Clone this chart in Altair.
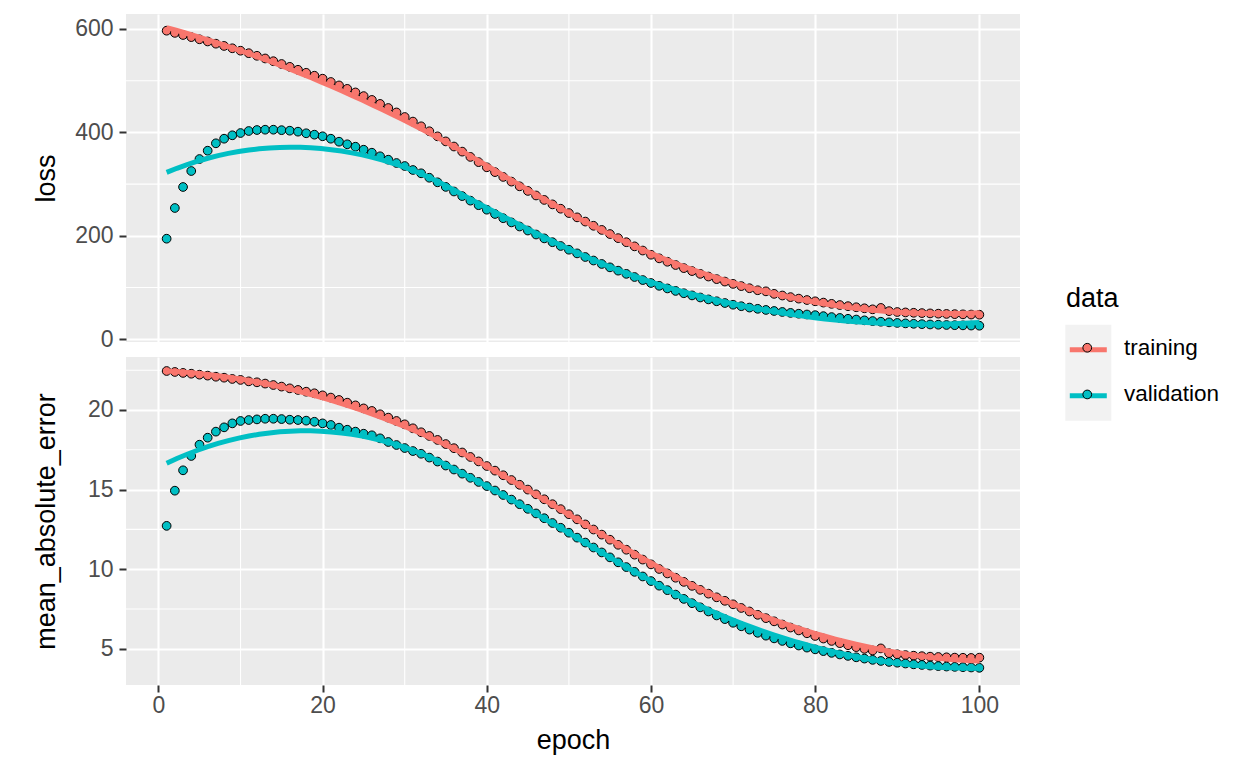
import altair as alt
import numpy as np
import pandas as pd

epochs = list(range(1, 101))

loss_training = [
    596.7, 592.5, 588.4, 584.3, 580.1, 575.9, 571.6, 567.2, 562.7, 558.0,
    553.2, 548.2, 543.0, 537.7, 532.3, 526.8, 521.1, 515.3, 509.6, 503.9,
    497.5, 490.9, 484.2, 477.3, 470.2, 462.8, 455.1, 447.2, 438.6, 429.8,
    420.9, 411.8, 402.2, 392.4, 382.6, 372.7, 362.8, 352.6, 342.5, 332.5,
    323.2, 313.9, 304.8, 295.7, 286.8, 278.0, 269.4, 260.8, 252.4, 244.0,
    235.7, 227.5, 219.4, 211.4, 203.4, 195.5, 187.6, 179.6, 171.5, 163.4,
    156.4, 149.8, 143.5, 137.5, 131.8, 126.4, 121.2, 116.2, 111.5, 107.0,
    102.7, 98.6, 94.7, 92.6, 87.7, 84.5, 81.4, 78.5, 75.8, 73.3,
    70.8, 68.4, 66.1, 63.9, 61.8, 59.8, 57.8, 60.5, 54.3, 52.6,
    51.8, 51.1, 50.5, 49.9, 49.4, 48.9, 48.5, 48.1, 47.7, 47.4,
]
loss_validation = [
    194.4, 253.8, 294.4, 325.3, 348.5, 364.6, 378.9, 387.8, 394.4, 398.8,
    402.7, 404.6, 405.2, 405.2, 404.3, 403.3, 401.4, 398.3, 395.6, 392.5,
    387.8, 382.0, 377.0, 372.3, 366.5, 360.7, 353.8, 347.2, 340.8, 335.0,
    327.3, 320.9, 312.3, 303.5, 294.6, 285.7, 276.8, 268.0, 259.2, 250.5,
    242.2, 234.0, 225.9, 218.0, 210.2, 202.5, 195.0, 187.6, 180.3, 173.1,
    166.0, 159.0, 152.2, 145.5, 139.0, 132.6, 126.4, 120.3, 114.4, 108.7,
    103.3, 98.2, 93.4, 88.9, 84.7, 80.7, 77.0, 73.4, 70.0, 66.7,
    63.8, 61.2, 58.8, 56.6, 54.6, 52.7, 50.9, 49.3, 47.8, 46.5,
    44.6, 42.8, 41.1, 39.5, 38.0, 36.5, 35.1, 33.8, 32.6, 31.5,
    30.6, 29.8, 29.1, 28.5, 28.0, 27.5, 27.1, 26.8, 26.4, 26.1,
]
mae_training = [
    22.45, 22.39, 22.33, 22.28, 22.22, 22.16, 22.09, 22.03, 21.95, 21.89,
    21.80, 21.74, 21.66, 21.57, 21.47, 21.36, 21.26, 21.15, 21.05, 20.92,
    20.78, 20.63, 20.46, 20.29, 20.10, 19.94, 19.73, 19.52, 19.31, 19.10,
    18.85, 18.60, 18.37, 18.12, 17.86, 17.60, 17.33, 17.05, 16.77, 16.48,
    16.19, 15.90, 15.60, 15.30, 15.00, 14.70, 14.39, 14.08, 13.77, 13.45,
    13.13, 12.81, 12.49, 12.17, 11.85, 11.53, 11.22, 10.91, 10.60, 10.30,
    10.01, 9.73, 9.46, 9.20, 8.95, 8.70, 8.46, 8.23, 8.01, 7.79,
    7.56, 7.34, 7.13, 6.92, 6.72, 6.52, 6.33, 6.15, 5.97, 5.80,
    5.64, 5.49, 5.35, 5.22, 5.10, 4.99, 4.89, 5.02, 4.72, 4.65,
    4.60, 4.56, 4.53, 4.50, 4.48, 4.46, 4.44, 4.43, 4.42, 4.44,
]
mae_validation = [
    12.72, 14.93, 16.21, 17.11, 17.82, 18.26, 18.64, 18.91, 19.16, 19.31,
    19.37, 19.41, 19.45, 19.45, 19.43, 19.39, 19.37, 19.33, 19.26, 19.16,
    19.06, 18.89, 18.76, 18.64, 18.51, 18.41, 18.22, 17.99, 17.80, 17.61,
    17.42, 17.25, 17.01, 16.76, 16.51, 16.26, 16.00, 15.74, 15.48, 15.22,
    14.94, 14.66, 14.37, 14.08, 13.79, 13.50, 13.20, 12.90, 12.60, 12.29,
    11.98, 11.67, 11.36, 11.05, 10.74, 10.43, 10.13, 9.83, 9.54, 9.25,
    8.96, 8.68, 8.40, 8.13, 7.86, 7.60, 7.34, 7.09, 6.86, 6.63,
    6.41, 6.20, 6.00, 5.82, 5.65, 5.49, 5.34, 5.20, 5.07, 4.96,
    4.85, 4.74, 4.64, 4.55, 4.46, 4.38, 4.30, 4.23, 4.17, 4.12,
    4.07, 4.02, 3.98, 3.94, 3.91, 3.88, 3.86, 3.84, 3.82, 3.80,
]

series_names = ["training", "validation"]
series_colors = ["#F8766D", "#00BFC4"]
x_major = [0, 20, 40, 60, 80, 100]
x_minor = [10, 30, 50, 70, 90]
loss_major = [0, 200, 400, 600]
loss_minor = [100, 300, 500]
mae_major = [5, 10, 15, 20]
mae_minor = [7.5, 12.5, 17.5, 22.5]

FONT = "Liberation Sans"
PW, PH = 894, 328


def loess_fit(x, y, xs, span=0.75):
    # local quadratic regression with tricube weights (as R's loess)
    x = np.asarray(x, float)
    y = np.asarray(y, float)
    n = len(x)
    q = int(np.floor(n * span))
    out = []
    for x0 in xs:
        d = np.abs(x - x0)
        h = np.sort(d)[q - 1] * 1.0000001
        w = np.clip(1 - (d / h) ** 3, 0, None) ** 3
        X = np.vstack([np.ones(n), x - x0, (x - x0) ** 2]).T
        sw = np.sqrt(w)
        beta, *_ = np.linalg.lstsq(X * sw[:, None], y * sw, rcond=None)
        out.append(beta[0])
    return out


xscale = alt.Scale(domain=[-3.95, 104.95], nice=False, zero=False)

legend_lines = alt.Legend(
    title=None, orient="none", legendX=939.3, legendY=310.8,
    symbolType="stroke", symbolSize=1369, symbolStrokeWidth=5,
    labelExpr="''", labelOffset=0, fillColor="#F2F2F2", padding=2,
    clipHeight=46, rowPadding=0, zindex=1,
)
legend_points = alt.Legend(
    title="data", orient="none", legendX=940, legendY=271.7,
    symbolType="circle", symbolSize=76, symbolStrokeColor="black",
    symbolStrokeWidth=1, symbolOffset=10, labelFontSize=22.5,
    labelColor="black", labelFont=FONT, labelOffset=25.5, titleFontSize=27,
    titleFont=FONT, titleFontWeight="normal", titleColor="black",
    titlePadding=23.8, rowPadding=23.7, padding=0, zindex=2,
)


def panel(train, valid, ydom, ymaj, ymin, ytitle, show_x):
    pts = pd.DataFrame({
        "epoch": epochs + epochs,
        "value": train + valid,
        "data": [series_names[0]] * len(epochs) + [series_names[1]] * len(epochs),
    })
    xs = np.linspace(min(epochs), max(epochs), 80)
    sm = pd.DataFrame({
        "epoch": np.concatenate([xs, xs]),
        "value": loess_fit(epochs, train, xs) + loess_fit(epochs, valid, xs),
        "data": [series_names[0]] * len(xs) + [series_names[1]] * len(xs),
    })
    yscale = alt.Scale(domain=ydom, nice=False, zero=False)
    if show_x:
        xaxis = alt.Axis(values=x_major, title="epoch", grid=True,
                         labelPadding=2, titleBaseline="alphabetic", titleY=63)
    else:
        xaxis = alt.Axis(values=x_major, title=None, labels=False, ticks=False,
                         domain=False, grid=True, minExtent=0, maxExtent=0)
    yaxis = alt.Axis(values=ymaj, title=ytitle, grid=True, titleAngle=270,
                     titleBaseline="alphabetic", titleX=-72, titleY=PH / 2,
                     titleAlign="center")

    X = alt.X("epoch:Q", scale=xscale, axis=xaxis)
    Y = alt.Y("value:Q", scale=yscale, axis=yaxis)

    vgrid = alt.Chart(pd.DataFrame({"epoch": x_minor})).mark_rule(
        color="white", strokeWidth=1.1).encode(x=X)
    hgrid = alt.Chart(pd.DataFrame({"value": ymin})).mark_rule(
        color="white", strokeWidth=1.1).encode(y=Y)
    points = alt.Chart(pts).mark_circle(
        size=76, stroke="black", strokeWidth=1, opacity=1).encode(
        x=X, y=Y,
        fill=alt.Fill("data:N", scale=alt.Scale(range=series_colors),
                      legend=legend_points),
    )
    lines = alt.Chart(sm).mark_line(strokeWidth=5).encode(
        x=X, y=Y,
        stroke=alt.Stroke("data:N",
                          scale=alt.Scale(domain=series_names, range=series_colors),
                          legend=legend_lines),
        detail="data:N",
    )
    return alt.layer(vgrid, hgrid, points, lines).properties(width=PW, height=PH)


top = panel(loss_training, loss_validation, [-5.4, 629.0], loss_major, loss_minor,
            "loss", False)
bottom = panel(mae_training, mae_validation, [2.72, 23.33], mae_major, mae_minor,
               "mean_absolute_error", True)

chart = alt.vconcat(top, bottom, spacing=4).properties(
    padding={"left": 24, "top": 5, "right": 0, "bottom": 2},
    background="white",
).configure(font=FONT).configure_view(
    fill="#EBEBEB", strokeWidth=0
).configure_axis(
    domain=False, tickColor="#333333", tickWidth=2, tickSize=7,
    labelColor="#4D4D4D", labelFontSize=23, labelFont=FONT, labelPadding=6,
    titleFontSize=27, titleFont=FONT, titleColor="black",
    titleFontWeight="normal", gridColor="white", gridWidth=2.1,
)

chart.save("out.html", embed_options={"renderer": "svg", "actions": False})
